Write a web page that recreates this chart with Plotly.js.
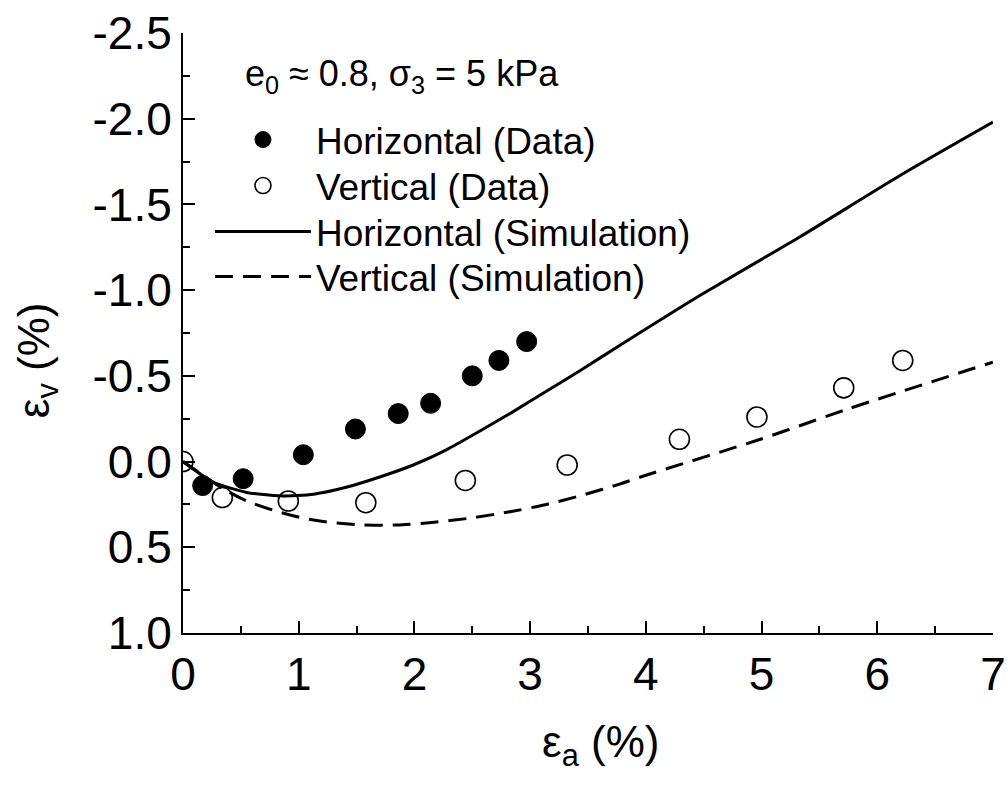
<!DOCTYPE html>
<html>
<head>
<meta charset="utf-8">
<script src="https://cdn.plot.ly/plotly-3.0.1.min.js"></script>
<style>html,body{margin:0;padding:0;background:#fff;}#chart{width:1007px;height:786px;}</style>
</head>
<body>
<div id="chart"></div>
<script>
// Horizontal (Data) - filled circles
var hDataX = [0.17, 0.52, 1.04, 1.49, 1.86, 2.14, 2.50, 2.73, 2.97];
var hDataY = [0.14, 0.10, -0.04, -0.19, -0.28, -0.34, -0.50, -0.59, -0.70];

// Vertical (Data) - open circles
var vDataX = [0.00, 0.34, 0.91, 1.58, 2.44, 3.32, 4.29, 4.96, 5.71, 6.22];
var vDataY = [0.00, 0.21, 0.23, 0.24, 0.11, 0.02, -0.13, -0.26, -0.43, -0.59];

// Horizontal (Simulation) - solid line
var hSimX = [0, 0.26, 0.55, 0.84, 1.13, 1.41, 1.70, 1.99, 2.28, 2.57, 2.85, 3.14, 3.43, 3.78, 4.47, 5.33, 6.20, 7.00];
var hSimY = [0, 0.12, 0.18, 0.20, 0.19, 0.15, 0.09, 0.02, -0.07, -0.18, -0.29, -0.41, -0.53, -0.68, -0.97, -1.31, -1.67, -1.98];

// Vertical (Simulation) - dashed line
var vSimX = [0, 0.35, 0.55, 0.81, 1.04, 1.27, 1.56, 1.85, 2.13, 2.48, 2.85, 3.14, 3.43, 3.78, 4.00, 4.99, 5.76, 7.00];
var vSimY = [0, 0.16, 0.23, 0.29, 0.33, 0.355, 0.37, 0.37, 0.357, 0.33, 0.29, 0.25, 0.20, 0.13, 0.08, -0.13, -0.31, -0.58];

// Tick labels
var xTickVals = [0, 1, 2, 3, 4, 5, 6, 7];
var xTickText = ["0", "1", "2", "3", "4", "5", "6", "7"];
var xMinorVals = [0.5, 1.5, 2.5, 3.5, 4.5, 5.5, 6.5];
var yTickVals = [-2.5, -2.0, -1.5, -1.0, -0.5, 0.0, 0.5, 1.0];
var yTickText = ["-2.5", "-2.0", "-1.5", "-1.0", "-0.5", "0.0", "0.5", "1.0"];
var yMinorVals = [-2.25, -1.75, -1.25, -0.75, -0.25, 0.25, 0.75];

var FONT = "Liberation Sans, Arial, sans-serif";
var LEG_FONT = {family: FONT, size: 37, color: "#000"};

var traces = [
  {x: hDataX, y: hDataY, name: "Horizontal (Data)", mode: "markers", type: "scatter", legend: "legend",
   marker: {symbol: "circle", size: 20, color: "#000", line: {color: "#000", width: 1}}},
  {x: vDataX, y: vDataY, name: "Vertical (Data)", mode: "markers", type: "scatter", legend: "legend2",
   marker: {symbol: "circle", size: 20, color: "#fff", line: {color: "#000", width: 1.6}}},
  {x: hSimX, y: hSimY, name: "Horizontal (Simulation)", mode: "lines", type: "scatter", legend: "legend3",
   line: {color: "#000", width: 3, shape: "spline", smoothing: 0.6}},
  {x: vSimX, y: vSimY, name: "Vertical (Simulation)", mode: "lines", type: "scatter", legend: "legend4",
   line: {color: "#000", width: 3, dash: "18px,10px", shape: "spline", smoothing: 0.6}}
];

function leg(rowPx) {
  return {
    x: 0.0333, y: 1 - (rowPx - 33) / 600, xanchor: "left", yanchor: "middle",
    bgcolor: "rgba(0,0,0,0)", borderwidth: 0, font: LEG_FONT, itemwidth: 96
  };
}

var layout = {
  width: 1007, height: 786,
  margin: {l: 183, r: 14, t: 33, b: 153},
  paper_bgcolor: "#fff", plot_bgcolor: "#fff",
  font: {family: FONT, color: "#000"},
  showlegend: true,
  legend: leg(140),
  legend2: leg(186),
  legend3: leg(232),
  legend4: leg(277),
  xaxis: {
    range: [0, 7], tickvals: xTickVals, ticktext: xTickText,
    showline: true, linecolor: "#000", linewidth: 2, mirror: false,
    ticks: "inside", ticklen: 12, tickwidth: 2, tickcolor: "#000",
    minor: {ticks: "inside", ticklen: 7, tickwidth: 2, tickcolor: "#000", tickvals: xMinorVals},
    showgrid: false, zeroline: false,
    tickfont: {family: FONT, size: 46, color: "#000"}
  },
  yaxis: {
    range: [1.0, -2.5], tickvals: yTickVals, ticktext: yTickText,
    showline: true, linecolor: "#000", linewidth: 2, mirror: false,
    ticks: "inside", ticklen: 12, tickwidth: 2, tickcolor: "#000",
    minor: {ticks: "inside", ticklen: 7, tickwidth: 2, tickcolor: "#000", tickvals: yMinorVals},
    showgrid: false, zeroline: false,
    tickfont: {family: FONT, size: 46, color: "#000"}
  },
  annotations: [
    {text: "e<sub>0</sub> ≈ 0.8, σ<sub>3</sub> = 5 kPa", xref: "paper", yref: "paper",
     x: 0.074, y: 0.928, xanchor: "left", yanchor: "middle", showarrow: false,
     font: {family: FONT, size: 36, color: "#000"}},
    {text: "ε<sub>a</sub> (%)", xref: "paper", yref: "paper", x: 0.515, y: -0.187,
     xanchor: "center", yanchor: "middle", showarrow: false,
     font: {family: FONT, size: 44, color: "#000"}},
    {text: "ε<sub>v</sub> (%)", xref: "paper", yref: "paper", x: -0.18, y: 0.455,
     xanchor: "center", yanchor: "middle", showarrow: false, textangle: -90,
     font: {family: FONT, size: 44, color: "#000"}}
  ]
};

Plotly.newPlot("chart", traces, layout, {displayModeBar: false, staticPlot: true});
</script>
</body>
</html>
